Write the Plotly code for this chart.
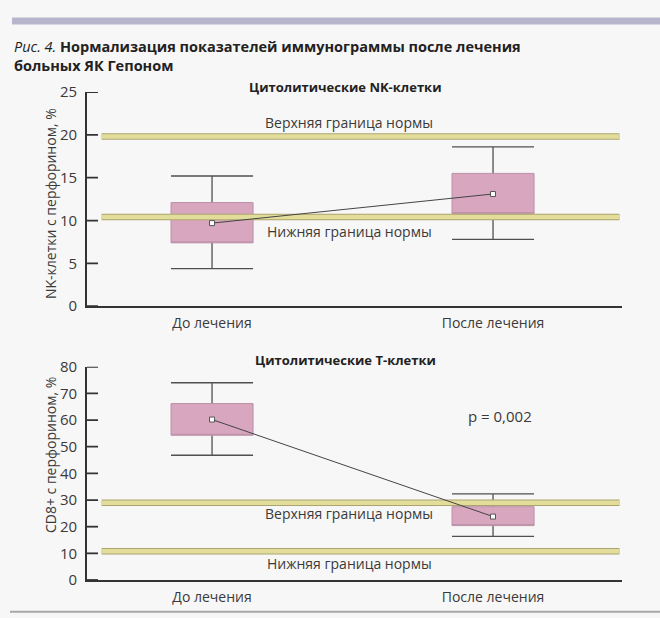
import plotly.graph_objects as go

# Categories (before / after treatment)
categories = ["До лечения", "После лечения"]
xpos = [0, 1]

# Cytolytic NK cells with perforin, %
nk_min = [4.4, 7.8]
nk_q1 = [7.4, 10.8]
nk_q3 = [12.1, 15.5]
nk_max = [15.2, 18.6]
nk_center = [9.7, 13.1]
nk_norm_upper = 19.8
nk_norm_lower = 10.4
nk_ticks = [0, 5, 10, 15, 20, 25]

# Cytolytic CD8+ T cells with perforin, %
t_min = [46.8, 16.4]
t_q1 = [54.3, 20.4]
t_q3 = [66.2, 27.5]
t_max = [74.0, 32.3]
t_center = [60.2, 23.8]
t_norm_upper = 29.0
t_norm_lower = 10.8
t_ticks = [0, 10, 20, 30, 40, 50, 60, 70, 80]
p_value_text = "p = 0,002"

FONT = "Open Sans"
TEXT = "#3a3a3a"
AXIS = "#333333"
BOX_FILL = "#d8a7bf"
BOX_LINE = "#bb90a6"
WHISKER = "#505050"
BAND_FILL = "#e2dd9b"
BAND_EDGE = "#aba46e"
BAND_X = [-0.393, 1.45]
BOX_W = 0.292

fig = go.Figure()


def add_panel(xa, ya, lo, q1, q3, hi, center, norms):
    mid = [(a + b) / 2 for a, b in zip(q1, q3)]
    # whiskers with caps (degenerate box hidden under the real box)
    fig.add_trace(go.Box(
        x=xpos, q1=mid, median=mid, q3=mid, lowerfence=lo, upperfence=hi,
        width=BOX_W, whiskerwidth=1, boxpoints=False,
        line=dict(color=WHISKER, width=1.3), fillcolor="rgba(0,0,0,0)",
        xaxis=xa, yaxis=ya, showlegend=False, hoverinfo="skip"))
    # interquartile box
    fig.add_trace(go.Box(
        x=xpos, q1=q1, median=q1, q3=q3, lowerfence=q1, upperfence=q3,
        width=BOX_W, whiskerwidth=0, boxpoints=False,
        line=dict(color=BOX_LINE, width=1), fillcolor=BOX_FILL,
        xaxis=xa, yaxis=ya, showlegend=False))
    # normal-range bands
    for v in norms:
        fig.add_trace(go.Scatter(
            x=BAND_X, y=[v, v], mode="lines",
            line=dict(color=BAND_EDGE, width=6.5),
            xaxis=xa, yaxis=ya, showlegend=False, hoverinfo="skip"))
        fig.add_trace(go.Scatter(
            x=BAND_X, y=[v, v], mode="lines",
            line=dict(color=BAND_FILL, width=4.5),
            xaxis=xa, yaxis=ya, showlegend=False))
    # trend line between group centres
    fig.add_trace(go.Scatter(
        x=xpos, y=center, mode="lines+markers",
        line=dict(color="#444444", width=1),
        marker=dict(symbol="square", size=5, color="white",
                    line=dict(color="#555555", width=1)),
        xaxis=xa, yaxis=ya, showlegend=False))


add_panel("x", "y", nk_min, nk_q1, nk_q3, nk_max, nk_center,
          [nk_norm_upper, nk_norm_lower])
add_panel("x2", "y2", t_min, t_q1, t_q3, t_max, t_center,
          [t_norm_upper, t_norm_lower])

xaxis_common = dict(
    range=[-0.445, 1.459], showline=True, linecolor=AXIS, linewidth=1.6,
    showgrid=False, zeroline=False, ticks="", tickmode="array",
    tickvals=xpos, ticktext=categories, ticklabelstandoff=3,
    tickfont=dict(family=FONT, size=14, color=TEXT), fixedrange=True)
yaxis_common = dict(
    showline=True, linecolor=AXIS, linewidth=1.6, showgrid=False,
    zeroline=False, ticks="", ticklabelstandoff=5, tickmode="array",
    tickfont=dict(family=FONT, size=15, color=TEXT))

H = 492.0
W = 535.0


def py(px):
    return (584 - px) / H


def pxx(px):
    return (px - 87) / W


shapes = [
    dict(type="rect", xref="paper", yref="paper",
         x0=pxx(12), x1=pxx(662), y0=py(24), y1=py(17),
         fillcolor="#b6b5cc", line=dict(width=0)),
    dict(type="line", xref="paper", yref="paper",
         x0=pxx(10), x1=pxx(662), y0=py(616), y1=py(616),
         line=dict(color="#a8a8a8", width=2)),
]
# tick marks pointing into the plot area
for xref, yref, vals in (("x domain", "y", nk_ticks), ("x2 domain", "y2", t_ticks)):
    for v in vals:
        shapes.append(dict(type="line", xref=xref, yref=yref,
                           x0=0, x1=11 / W, y0=v, y1=v,
                           line=dict(color=AXIS, width=1.8)))

fig.update_layout(
    width=660, height=618,
    margin=dict(l=87, r=38, t=92, b=34),
    paper_bgcolor="#f8f7f7", plot_bgcolor="rgba(0,0,0,0)",
    boxmode="overlay",
    xaxis=dict(xaxis_common, domain=[0, 1], anchor="y"),
    yaxis=dict(yaxis_common, domain=[py(308), 1], range=[0, 25],
               tickvals=nk_ticks, anchor="x"),
    xaxis2=dict(xaxis_common, domain=[0, 1], anchor="y2"),
    yaxis2=dict(yaxis_common, domain=[0, py(369)], range=[0, 80],
                tickvals=t_ticks, anchor="x2"),
    shapes=shapes,
)

ann = []
# figure caption
ann.append(dict(xref="paper", yref="paper", x=pxx(12), y=py(56),
                xanchor="left", yanchor="middle", showarrow=False, align="left",
                text="<i>Рис. 4.</i> <b>Нормализация показателей иммунограммы после лечения</b>"
                     "<br><b>больных ЯК Гепоном</b>",
                font=dict(family=FONT, size=14.5, color="#222222")))
# panel titles
ann.append(dict(xref="paper", yref="paper", x=pxx(345), y=py(87),
                xanchor="center", yanchor="middle", showarrow=False,
                text="<b>Цитолитические NK-клетки</b>",
                font=dict(family=FONT, size=13, color="#222222")))
ann.append(dict(xref="paper", yref="paper", x=pxx(345), y=py(362),
                xanchor="center", yanchor="middle", showarrow=False,
                text="<b>Цитолитические Т-клетки</b>",
                font=dict(family=FONT, size=13, color="#222222")))
# y-axis titles
ann.append(dict(xref="paper", yref="paper", x=pxx(50), y=py(205),
                xanchor="center", yanchor="middle", showarrow=False,
                textangle=-90, text="NK-клетки с перфорином, %",
                font=dict(family=FONT, size=14, color=TEXT)))
ann.append(dict(xref="paper", yref="paper", x=pxx(50), y=py(458),
                xanchor="center", yanchor="middle", showarrow=False,
                textangle=-90, text="CD8+ с перфорином, %",
                font=dict(family=FONT, size=14, color=TEXT)))
# band labels
band_font = dict(family=FONT, size=14, color=TEXT)
ann += [
    dict(xref="x", yref="y", x=0.488, y=21.4, text="Верхняя граница нормы",
         showarrow=False, font=band_font),
    dict(xref="x", yref="y", x=0.488, y=8.7, text="Нижняя граница нормы",
         showarrow=False, font=band_font),
    dict(xref="x2", yref="y2", x=0.488, y=24.9, text="Верхняя граница нормы",
         showarrow=False, font=band_font),
    dict(xref="x2", yref="y2", x=0.488, y=6.3, text="Нижняя граница нормы",
         showarrow=False, font=band_font),
    dict(xref="x2", yref="y2", x=1.025, y=61.7, text=p_value_text,
         showarrow=False, font=dict(family=FONT, size=15, color=TEXT)),
]
fig.update_layout(annotations=ann)

fig.write_html("out.html")
